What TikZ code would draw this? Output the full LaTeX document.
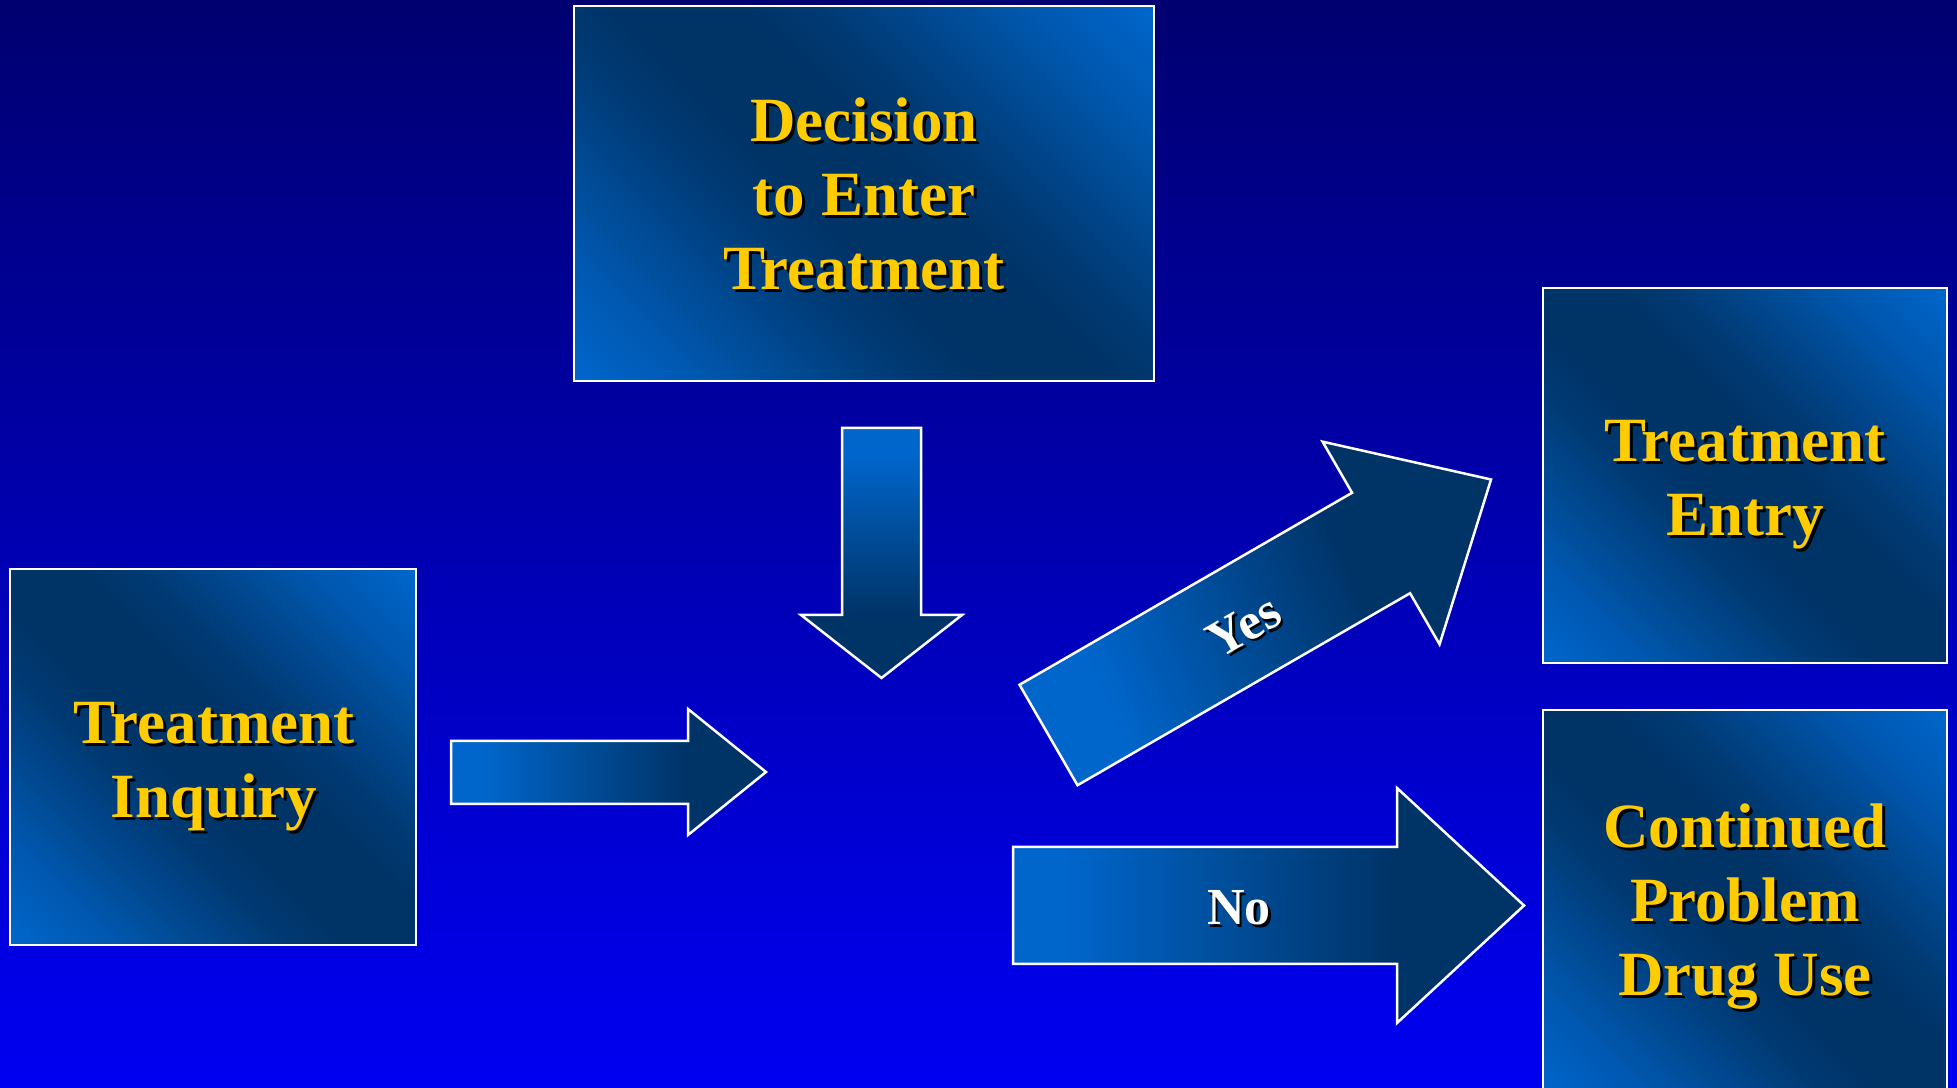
\documentclass[tikz,border=0pt]{standalone}
\usepackage{fontspec}
\setmainfont{Liberation Serif}
\usetikzlibrary{calc}
\definecolor{bgtop}{HTML}{000070}
\definecolor{bgbot}{HTML}{0000F2}
\definecolor{lt}{HTML}{0066CC}
\definecolor{dk}{HTML}{003366}
\colorlet{mixa}{lt!72!dk}
\colorlet{mixb}{lt!38!dk}
\colorlet{mixc}{lt!12!dk}
\definecolor{txtyellow}{HTML}{FFCC00}
\pgfdeclareverticalshading{boxdiag}{100bp}{color(0bp)=(lt); color(14.6bp)=(lt); color(24bp)=(mixa); color(33bp)=(mixb); color(40bp)=(mixc); color(46bp)=(dk); color(54bp)=(dk); color(60bp)=(mixc); color(67bp)=(mixb); color(76bp)=(mixa); color(85.4bp)=(lt); color(100bp)=(lt)}
\pgfdeclareverticalshading{arrowgrad}{100bp}{color(0bp)=(dk); color(37.5bp)=(dk); color(70bp)=(lt); color(100bp)=(lt)}
\tikzset{
  boxshape/.style={draw=white, line width=2.5pt, shade, shading=boxdiag, shading angle=-45, inner sep=0pt},
  blockarrow/.style={draw=white, line width=2.5pt, line join=miter, shade, shading=arrowgrad},
  bigtxt/.style={font=\bfseries\fontsize{63}{74}\selectfont, align=center, inner sep=0pt, text=txtyellow},
  bigshadow/.style={bigtxt, text=black},
  lbl/.style={font=\bfseries\fontsize{52}{60}\selectfont, inner sep=0pt, text=white},
  lblshadow/.style={lbl, text=black}
}
\begin{document}
\begin{tikzpicture}[x=1pt,y=1pt]
\useasboundingbox (0,0) rectangle (1957,1087);
\clip (0,0) rectangle (1957,1087);
\shade[top color=bgtop, bottom color=bgbot] (0,0) rectangle (1957,1087);

% boxes
\node[boxshape, minimum width=580pt, minimum height=375pt] (dec) at (864,893.5) {};
\node[boxshape, minimum width=406pt, minimum height=376pt] (inq) at (213,330) {};
\node[boxshape, minimum width=404pt, minimum height=375pt] (ent) at (1745,611.5) {};
\node[boxshape, minimum width=404pt, minimum height=385pt] (cont) at (1745,184.5) {};

% box texts
\node[bigshadow] (decS) at (867,890.5) {Decision\\to Enter\\Treatment};
\node[bigtxt] (decT) at (864,893.5) {Decision\\to Enter\\Treatment};
\node[bigshadow] (inqS) at (217,317) {Treatment\\Inquiry};
\node[bigtxt] (inqT) at (214,320) {Treatment\\Inquiry};
\node[bigshadow] (entS) at (1748,599.5) {Treatment\\Entry};
\node[bigtxt] (entT) at (1745,602.5) {Treatment\\Entry};
\node[bigshadow] (contS) at (1748,177.5) {Continued\\Problem\\Drug Use};
\node[bigtxt] (contT) at (1745,180.5) {Continued\\Problem\\Drug Use};

% block arrows
\path[blockarrow, shading angle=0] (842,659) -- (921,659) -- (921,472) -- (962,472) -- (881.5,409) -- (801,472) -- (842,472) -- cycle;
\path[blockarrow, shading angle=90] (451,346) -- (688,346) -- (688,378) -- (766,315) -- (688,252) -- (688,283) -- (451,283) -- cycle;
\path[blockarrow, shading angle=90] (1013,240) -- (1397,240) -- (1397,299) -- (1524,181.5) -- (1397,64) -- (1397,123) -- (1013,123) -- cycle;
\coordinate (yt) at (1048.5,352);
\path[blockarrow, shading angle=112.8]
  ($(yt)+(120:58)$) -- ($(yt)+(30:384)+(120:58)$) -- ($(yt)+(30:384)+(120:117)$)
  -- ($(yt)+(30:511)$) -- ($(yt)+(30:384)+(-60:117)$) -- ($(yt)+(30:384)+(-60:58)$)
  -- ($(yt)+(-60:58)$) -- cycle;

% labels
\node[lblshadow, rotate=30] (yesS) at (1246.5,458.5) {Yes};
\node[lbl, rotate=30] (yesT) at (1244,461) {Yes};
\node[lblshadow] (noS) at (1241.5,176.5) {No};
\node[lbl] (noT) at (1239,179) {No};
\end{tikzpicture}
\end{document}
